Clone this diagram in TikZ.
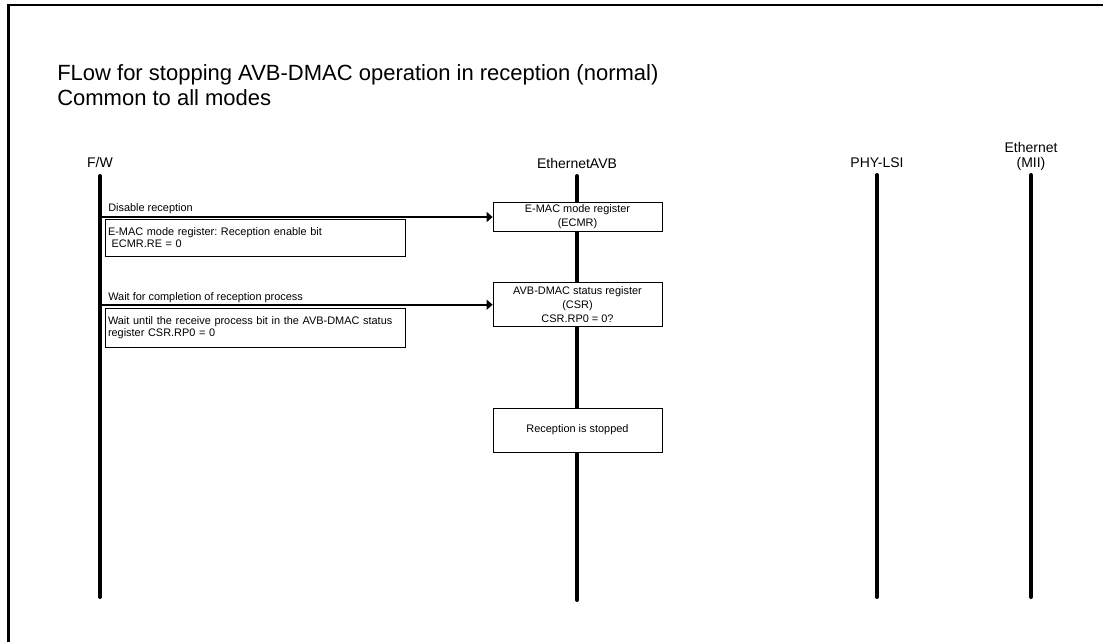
\documentclass[tikz,border=0pt]{standalone}
\usepackage{fontspec}
\setmainfont{Liberation Sans}
\frenchspacing
\usetikzlibrary{arrows.meta}
\tikzset{
  frameS/.style  ={line width=2pt},
  lifeline/.style={line width=3pt, line cap=round},
  msgS/.style    ={line width=1.5pt, -{Triangle[length=4.5pt,width=7.5pt]}},
  regbox/.style  ={draw, fill=white, line width=0.6pt, minimum width=126.75pt, inner sep=0pt,
                   align=center, font=\fontsize{8.2}{10.5}\selectfont},
  notebox/.style ={draw, fill=white, line width=0.6pt, text width=220.5pt, inner xsep=2.25pt,
                   inner ysep=0pt, align=left, font=\fontsize{8.2}{9}\selectfont},
  msglabel/.style={anchor=base west, inner sep=0pt, font=\fontsize{8.2}{9}\selectfont},
  actor/.style   ={inner sep=0pt, align=center, font=\fontsize{10.5}{11.25}\selectfont},
  titleS/.style  ={anchor=base west, inner sep=0pt, font=\fontsize{16.5}{19.5}\selectfont},
}
\begin{document}
\begin{tikzpicture}[x=0.75pt, y=-0.75pt]
  \useasboundingbox (0,0) rectangle (1103,642);
  \draw[frameS] (8.5,642) -- (8.5,5) -- (1103,5);
  \node[titleS] (title) at (57,80)  {FLow for stopping AVB-DMAC operation in reception (normal)};
  \node[titleS] (modes) at (57,105) {Common to all modes};

  \node[actor, anchor=base]  (fw)  at (100,167)  {F/W};
  \node[actor, anchor=base]  (avb) at (577,168)  {EthernetAVB};
  \node[actor, anchor=base]  (phy) at (877,167)  {PHY-LSI};
  \node[actor, anchor=south] (eth) at (1031,171) {Ethernet\\(MII)};

  \coordinate (fw-top)  at (100,176);  \coordinate (fw-bot)  at (100,597);
  \coordinate (avb-top) at (577,176);  \coordinate (avb-bot) at (577,600);
  \coordinate (phy-top) at (877,175);  \coordinate (phy-bot) at (877,597);
  \coordinate (eth-top) at (1031,175); \coordinate (eth-bot) at (1031,597);
  \draw[lifeline] (fw-top) -- (fw-bot);
  \draw[lifeline] (avb-top) -- (avb-bot);
  \draw[lifeline] (phy-top) -- (phy-bot);
  \draw[lifeline] (eth-top) -- (eth-bot);

  \node[regbox, minimum height=22pt] (ecmr) at (577.5,217) {E-MAC mode register\\(ECMR)};
  \node[regbox, minimum height=33pt] (csr)  at (577.5,304.7) {AVB-DMAC status register\\(CSR)\\CSR.RP0 = 0?};
  \node[regbox, minimum height=33pt] (stop) at (577.5,430) {Reception is stopped};

  \coordinate (fw-m1) at (100,217);
  \coordinate (fw-m2) at (100,304.7);
  \draw[msgS] (fw-m1) -- (ecmr.west);
  \draw[msgS] (fw-m2) -- (csr.west);
  \node[msglabel] (m1lbl) at (108,211) {Disable reception};
  \node[msglabel] (m2lbl) at (108,300) {Wait for completion of reception process};

  \node[notebox, minimum height=28.3pt] (renote) at (255,237.9)
    {E-MAC mode register: Reception enable bit\\~ECMR.RE = 0};
  \node[notebox, minimum height=29.25pt] (rpnote) at (255,327.5)
    {Wait until the receive process bit in the AVB-DMAC status\\register CSR.RP0 = 0};
\end{tikzpicture}
\end{document}
